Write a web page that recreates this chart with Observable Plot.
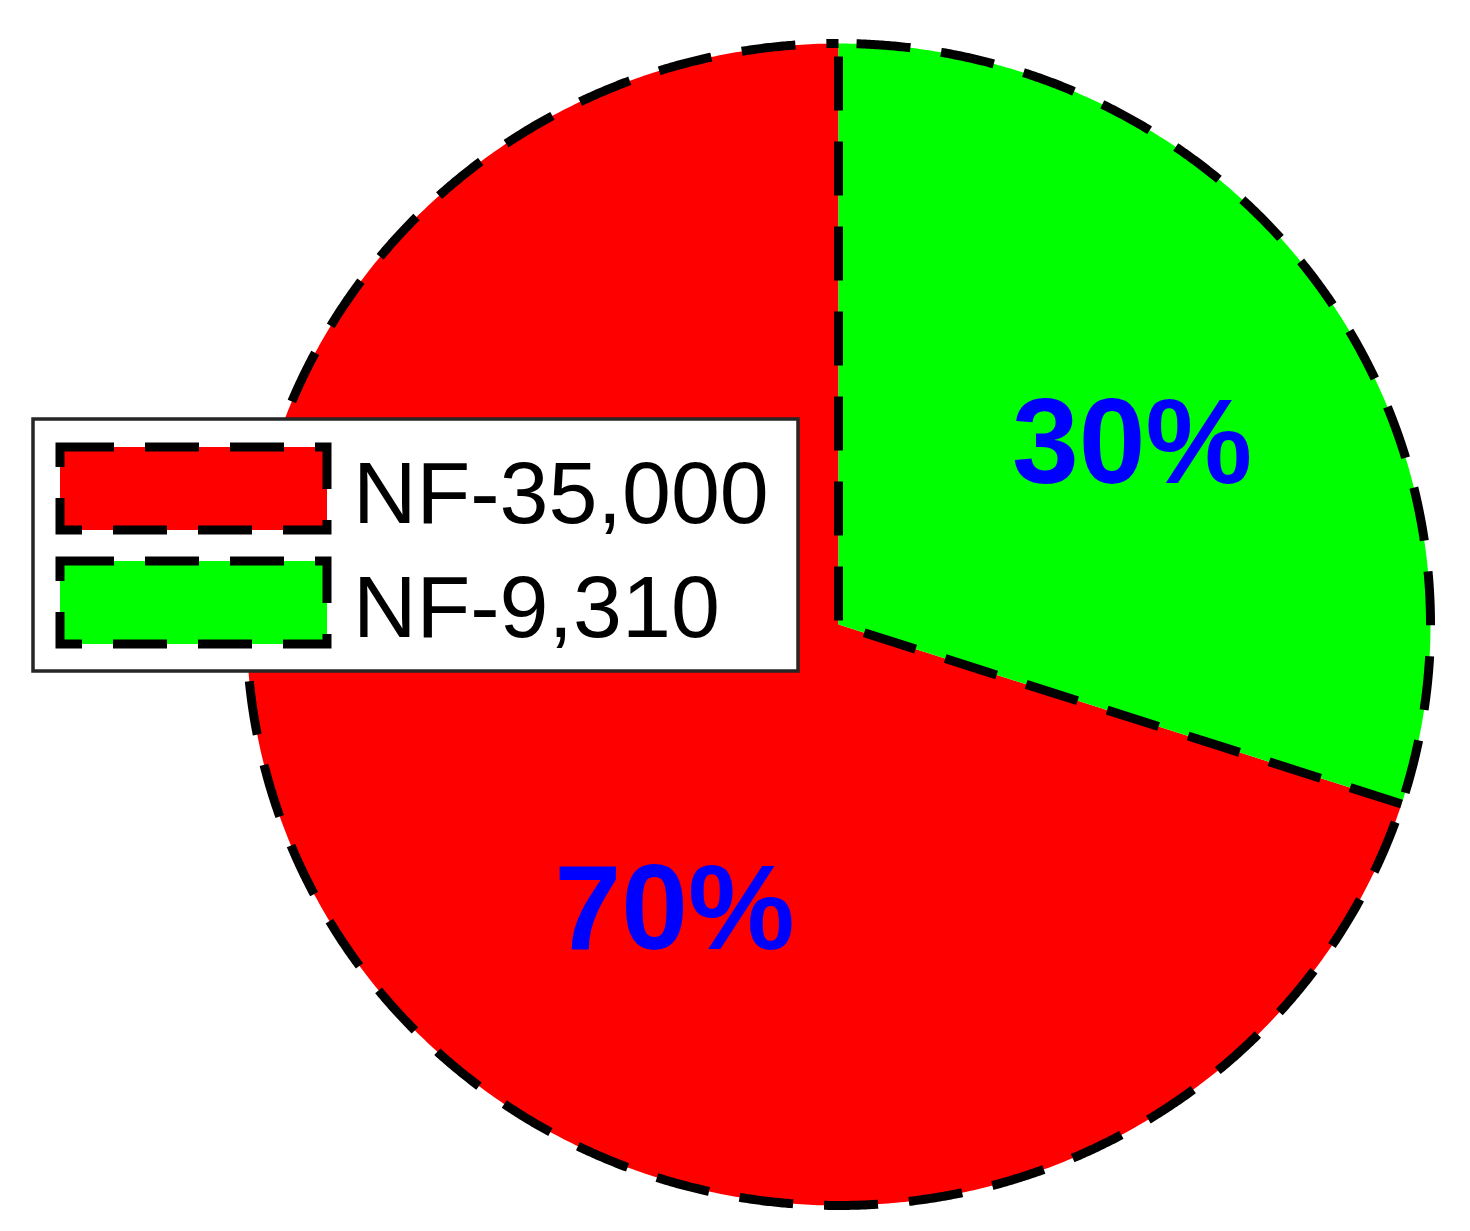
<!DOCTYPE html>
<html><head><meta charset="utf-8">
<script src="https://cdn.jsdelivr.net/npm/d3@7"></script>
<script src="https://cdn.jsdelivr.net/npm/@observablehq/plot@0.6"></script>
<style>
body{margin:0;background:#fff}
#chart{position:relative;width:1470px;height:1231px}
#legend{position:absolute;left:0;top:0;pointer-events:none}
</style>
</head><body><div id="chart"></div>
<script>
// ---- data ----
const categories = ["NF-35,000", "NF-9,310"];
const shares = [70, 30];
const colors = ["#ff0000", "#00ff00"];
const pctLabels = ["70%", "30%"];

// label placement (data units of the pie, radius = 1)
const labelPlacement = [{x: -0.277, y: -0.559}, {x: 0.496, y: 0.244}];

// ---- geometry from data ----
const rows = categories.map((c, i) => ({cat: c, share: shares[i]}));
const total = d3.sum(shares);
const greenFrac = shares[1] / total;
const start = greenFrac * 2 * Math.PI;
const arcs = d3.pie().sort(null).value(d => d.share)
  .startAngle(start).endAngle(start + 2 * Math.PI)(rows);

const slicePts = [];
for (const a of arcs) {
  const n = Math.max(2, Math.ceil((a.endAngle - a.startAngle) / (2 * Math.PI) * 900));
  slicePts.push({cat: a.data.cat, x: 0, y: 0});
  for (let k = 0; k <= n; k++) {
    const t = a.startAngle + (a.endAngle - a.startAngle) * k / n;
    slicePts.push({cat: a.data.cat, x: Math.sin(t), y: Math.cos(t)});
  }
}
// outline: radial line at boundary, to centre, up to top, then full circle
const outline = [];
outline.push({x: Math.sin(start), y: Math.cos(start)});
outline.push({x: 0, y: 0});
for (let k = 0; k <= 1800; k++) {
  const t = 2 * Math.PI * k / 1800;
  outline.push({x: Math.sin(t), y: Math.cos(t)});
}
const labelData = pctLabels.map((t, i) => ({text: t, ...labelPlacement[i]}));

const plot = Plot.plot({
  width: 1470, height: 1231,
  marginLeft: 246, marginRight: 40, marginTop: 43, marginBottom: 26,
  x: {domain: [-1, 1], axis: null},
  y: {domain: [-1, 1], axis: null},
  color: {domain: categories, range: colors},
  style: {fontFamily: "Liberation Sans, Arial, sans-serif", background: "white", overflow: "visible"},
  marks: [
    Plot.line(slicePts, {x: "x", y: "y", z: "cat", fill: "cat", stroke: "none", curve: "linear-closed"}),
    Plot.line(outline, {x: "x", y: "y", stroke: "black", strokeWidth: 9, strokeDasharray: "54,31", strokeLinecap: "butt"}),
    Plot.text(labelData, {x: "x", y: "y", text: "text", fill: "#0000ff", fontSize: 120, fontWeight: "bold",
      fontFamily: "Liberation Sans, Arial, sans-serif", textAnchor: "middle", lineAnchor: "bottom"})
  ]
});
document.getElementById("chart").appendChild(plot);

// ---- legend overlay ----
const lg = d3.select("#chart").append("svg").attr("id", "legend")
  .attr("width", 1470).attr("height", 1231);
lg.append("rect").attr("x", 33).attr("y", 419).attr("width", 765).attr("height", 252)
  .attr("fill", "white").attr("stroke", "#262626").attr("stroke-width", 3.5);
const rowsY = [447, 561];
const baseY = [523, 637];
categories.forEach((c, i) => {
  lg.append("rect").attr("x", 60).attr("y", rowsY[i]).attr("width", 267).attr("height", 83)
    .attr("fill", colors[i]).attr("stroke", "black").attr("stroke-width", 9)
    .attr("stroke-dasharray", "54,31");
  lg.append("text").attr("x", 353).attr("y", baseY[i]).text(c)
    .attr("font-family", "Liberation Sans, Arial, sans-serif").attr("font-size", 88).attr("fill", "black");
});
</script>
</body></html>
